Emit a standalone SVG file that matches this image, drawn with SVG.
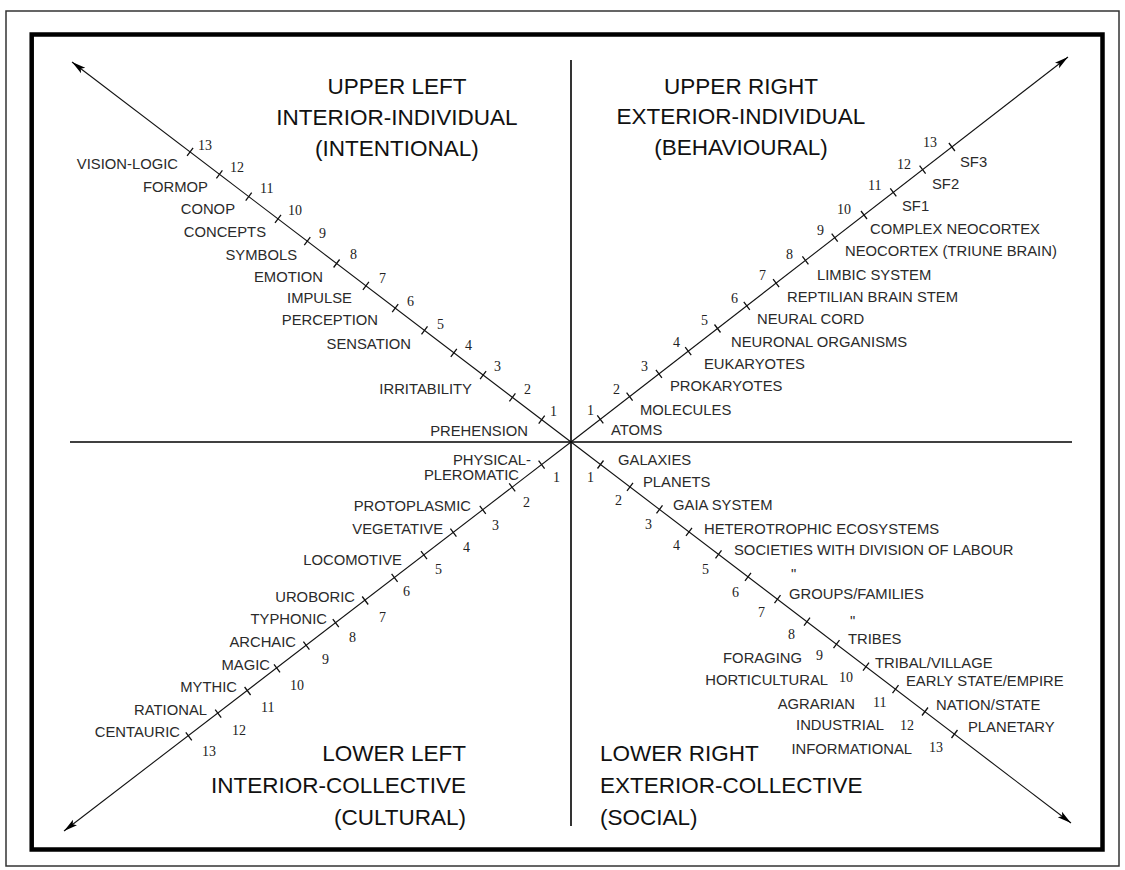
<svg xmlns="http://www.w3.org/2000/svg" width="1125" height="870" viewBox="0 0 1125 870">
<style>
.title{font-family:"Liberation Sans",Arial,sans-serif;font-size:22.5px;fill:#111}
.lbl{font-family:"Liberation Sans",Arial,sans-serif;font-size:14.8px;fill:#2a2a2a}
.num{font-family:"Liberation Serif","Times New Roman",serif;font-size:14px;fill:#222}
.ax{stroke:#000;stroke-width:1.6;fill:none}
.diag{stroke:#111;stroke-width:1.1;fill:none}
.tick{stroke:#111;stroke-width:1.3;fill:none}
.end{text-anchor:end}
.mid{text-anchor:middle}
</style>
<defs>
<marker id="arr" markerUnits="userSpaceOnUse" markerWidth="16" markerHeight="10" refX="14" refY="4" orient="auto">
<path d="M0,0.5 L14,4 L0,7.5 L3,4 z" fill="#000"/>
</marker>
</defs>
<rect x="6" y="11" width="1113" height="855" fill="#fff" stroke="#333" stroke-width="1.5"/>
<rect x="31.7" y="34.5" width="1070.8" height="815" fill="#fff" stroke="#000" stroke-width="4.5"/>
<g id="connectors">
<line class="ax" x1="70" y1="442" x2="1072" y2="442"/>
<line class="ax" x1="571" y1="60" x2="571" y2="826"/>
<line class="diag" x1="571" y1="442" x2="72" y2="62" marker-end="url(#arr)"/>
<line class="diag" x1="571" y1="442" x2="1068" y2="57" marker-end="url(#arr)"/>
<line class="diag" x1="571" y1="442" x2="64" y2="831" marker-end="url(#arr)"/>
<line class="diag" x1="571" y1="442" x2="1071" y2="823" marker-end="url(#arr)"/>
</g>
<g id="upper-left">
<text class="title mid" x="397" y="94">UPPER LEFT</text>
<text class="title mid" x="397" y="125">INTERIOR-INDIVIDUAL</text>
<text class="title mid" x="397" y="156">(INTENTIONAL)</text>
<path class="tick" d="M538.7,423.7l6,-8M509.4,401.4l6,-8M480.1,379.1l6,-8M450.8,356.8l6,-8M421.5,334.4l6,-8M392.2,312.1l6,-8M362.9,289.8l6,-8M333.6,267.5l6,-8M304.3,245.2l6,-8M275,222.9l6,-8M245.7,200.6l6,-8M216.4,178.3l6,-8M187.1,155.9l6,-8"/>
<g class="lbl end">
<text x="178" y="169">VISION-LOGIC</text>
<text x="208" y="192">FORMOP</text>
<text x="235" y="213.5">CONOP</text>
<text x="266" y="237">CONCEPTS</text>
<text x="297" y="259.5">SYMBOLS</text>
<text x="323" y="282">EMOTION</text>
<text x="352" y="302.5">IMPULSE</text>
<text x="378" y="325">PERCEPTION</text>
<text x="411" y="348.5">SENSATION</text>
<text x="472" y="393.5">IRRITABILITY</text>
<text x="528" y="436">PREHENSION</text>
</g>
<g class="num">
<text x="198" y="149.5">13</text>
<text x="230" y="172">12</text>
<text x="260" y="193">11</text>
<text x="288" y="215">10</text>
<text x="319" y="237.5">9</text>
<text x="350" y="259">8</text>
<text x="379" y="283">7</text>
<text x="407" y="306">6</text>
<text x="437" y="328.5">5</text>
<text x="465" y="350">4</text>
<text x="494" y="370.5">3</text>
<text x="524" y="393.5">2</text>
<text x="550" y="416">1</text>
</g>
</g>
<g id="upper-right">
<text class="title mid" x="741" y="94">UPPER RIGHT</text>
<text class="title mid" x="741" y="124">EXTERIOR-INDIVIDUAL</text>
<text class="title mid" x="741" y="155">(BEHAVIOURAL)</text>
<path class="tick" d="M597.3,415.3l6,8M626.6,392.6l6,8M655.9,369.9l6,8M685.2,347.2l6,8M714.5,324.5l6,8M743.8,301.8l6,8M773.1,279.1l6,8M802.4,256.4l6,8M831.7,233.7l6,8M861,211l6,8M890.3,188.3l6,8M919.6,165.6l6,8M948.9,143l6,8"/>
<g class="lbl">
<text x="611" y="435">ATOMS</text>
<text x="640" y="415">MOLECULES</text>
<text x="670" y="391">PROKARYOTES</text>
<text x="704" y="369">EUKARYOTES</text>
<text x="731" y="347">NEURONAL ORGANISMS</text>
<text x="757" y="324">NEURAL CORD</text>
<text x="787" y="302">REPTILIAN BRAIN STEM</text>
<text x="817" y="279.5">LIMBIC SYSTEM</text>
<text x="845" y="256">NEOCORTEX (TRIUNE BRAIN)</text>
<text x="870" y="233.5">COMPLEX NEOCORTEX</text>
<text x="902" y="211">SF1</text>
<text x="932" y="188.5">SF2</text>
<text x="960" y="167">SF3</text>
</g>
<g class="num">
<text x="587" y="415">1</text>
<text x="613" y="393.5">2</text>
<text x="641" y="371">3</text>
<text x="673" y="347">4</text>
<text x="701" y="325">5</text>
<text x="731" y="303">6</text>
<text x="759" y="280">7</text>
<text x="786" y="258.5">8</text>
<text x="817" y="235">9</text>
<text x="837" y="213.5">10</text>
<text x="868" y="190">11</text>
<text x="897" y="168.5">12</text>
<text x="923" y="147">13</text>
</g>
</g>
<g id="lower-left">
<text class="title end" x="466" y="761">LOWER LEFT</text>
<text class="title end" x="466" y="793">INTERIOR-COLLECTIVE</text>
<text class="title end" x="466" y="825">(CULTURAL)</text>
<path class="tick" d="M538.6,460.6l6,8M509.2,483.3l6,8M479.8,505.9l6,8M450.4,528.6l6,8M421,551.2l6,8M391.6,573.8l6,8M362.2,596.5l6,8M332.8,619.1l6,8M303.4,641.7l6,8M274,664.4l6,8M244.6,687l6,8M215.2,709.7l6,8M185.8,732.3l6,8"/>
<g class="lbl end">
<text x="531" y="465">PHYSICAL-</text>
<text x="519" y="479.5">PLEROMATIC</text>
<text x="471" y="511">PROTOPLASMIC</text>
<text x="443" y="533.5">VEGETATIVE</text>
<text x="402" y="565">LOCOMOTIVE</text>
<text x="355" y="602">UROBORIC</text>
<text x="327" y="624">TYPHONIC</text>
<text x="296" y="647">ARCHAIC</text>
<text x="270" y="670">MAGIC</text>
<text x="237" y="692">MYTHIC</text>
<text x="207" y="715">RATIONAL</text>
<text x="180" y="737">CENTAURIC</text>
</g>
<g class="num">
<text x="553" y="482">1</text>
<text x="523" y="507">2</text>
<text x="492" y="530">3</text>
<text x="463" y="552">4</text>
<text x="435" y="573.5">5</text>
<text x="403" y="596">6</text>
<text x="379" y="622">7</text>
<text x="349" y="642">8</text>
<text x="322" y="663.5">9</text>
<text x="290" y="689.5">10</text>
<text x="261" y="712">11</text>
<text x="232" y="734.5">12</text>
<text x="202" y="756">13</text>
</g>
</g>
<g id="lower-right">
<text class="title" x="600" y="761">LOWER RIGHT</text>
<text class="title" x="600" y="793">EXTERIOR-COLLECTIVE</text>
<text class="title" x="600" y="825">(SOCIAL)</text>
<path class="tick" d="M597.5,468.5l6,-8M627,490.9l6,-8M656.5,513.4l6,-8M686,535.8l6,-8M715.5,558.3l6,-8M745,580.8l6,-8M774.5,603.2l6,-8M804,625.7l6,-8M833.5,648.2l6,-8M863,670.6l6,-8M892.5,693.1l6,-8M922,715.5l6,-8M951.5,738l6,-8"/>
<g class="lbl">
<text x="618" y="464.5">GALAXIES</text>
<text x="643" y="487">PLANETS</text>
<text x="673" y="510">GAIA SYSTEM</text>
<text x="704" y="533.5">HETEROTROPHIC ECOSYSTEMS</text>
<text x="734" y="555">SOCIETIES WITH DIVISION OF LABOUR</text>
<text x="791" y="579">"</text>
<text x="789" y="598.5">GROUPS/FAMILIES</text>
<text x="850" y="626">"</text>
<text x="848" y="643.5">TRIBES</text>
<text x="875" y="667.5">TRIBAL/VILLAGE</text>
<text x="906" y="686">EARLY STATE/EMPIRE</text>
<text x="936" y="710">NATION/STATE</text>
<text x="968" y="732">PLANETARY</text>
</g>
<g class="lbl end">
<text x="802" y="663">FORAGING</text>
<text x="828" y="685">HORTICULTURAL</text>
<text x="855" y="708.5">AGRARIAN</text>
<text x="884" y="730">INDUSTRIAL</text>
<text x="912" y="753.5">INFORMATIONAL</text>
</g>
<g class="num">
<text x="587" y="482">1</text>
<text x="615" y="505">2</text>
<text x="645" y="528.5">3</text>
<text x="673" y="550">4</text>
<text x="702" y="573.5">5</text>
<text x="732" y="597">6</text>
<text x="758" y="617">7</text>
<text x="788" y="638.5">8</text>
<text x="816" y="660">9</text>
<text x="839" y="682">10</text>
<text x="873" y="707">11</text>
<text x="900" y="729.5">12</text>
<text x="929" y="752">13</text>
</g>
</g>
</svg>
